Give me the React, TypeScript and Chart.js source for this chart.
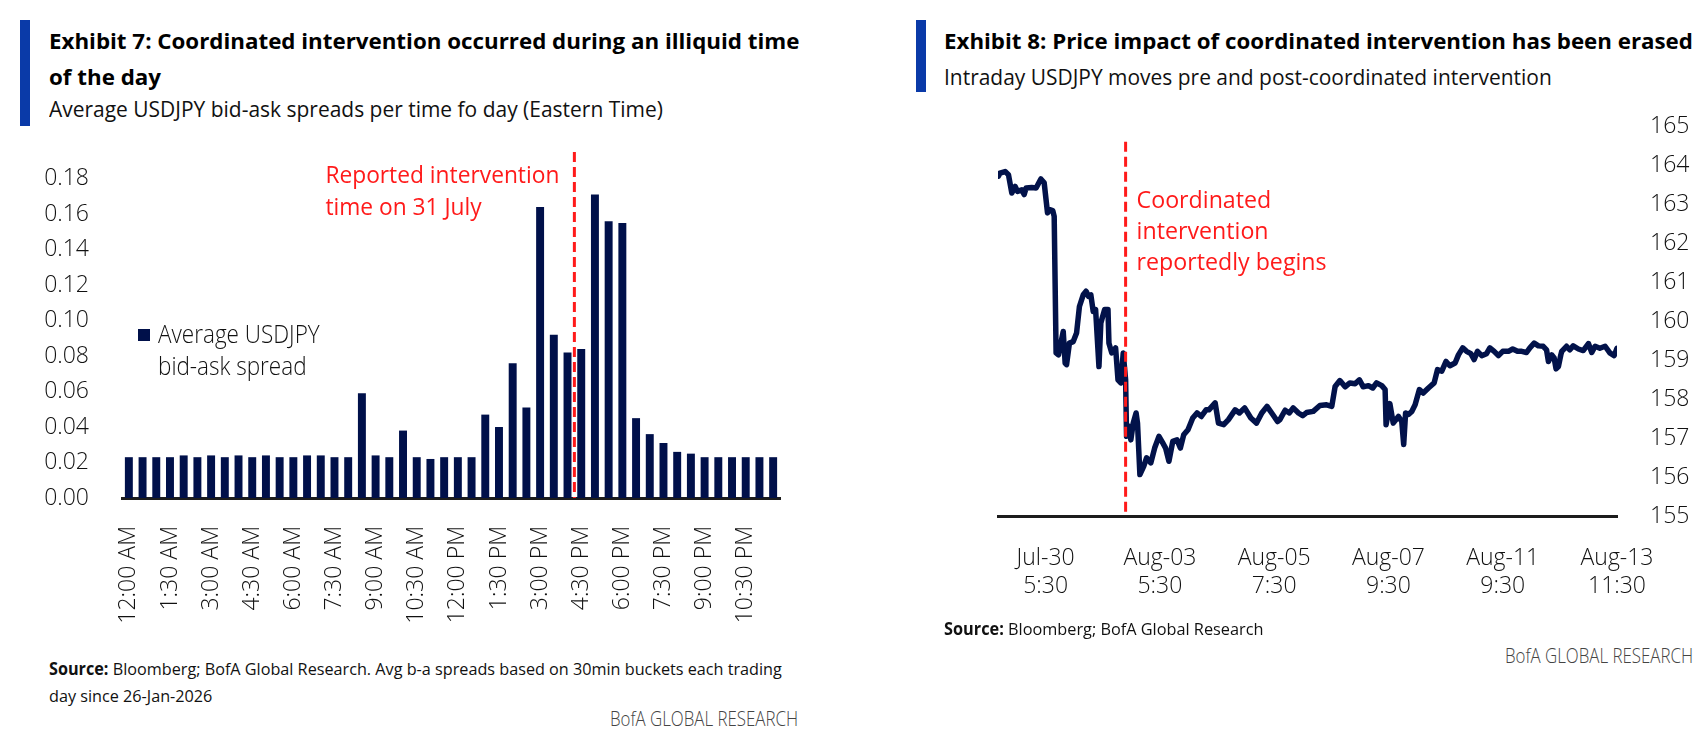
import React, { useEffect, useLayoutEffect, useRef, useState } from 'react';
import { Chart, registerables } from 'chart.js';

Chart.register(...registerables);

// ---------------- Exhibit 7 data ----------------
const TIME_BUCKETS = [
  '12:00 AM', '12:30 AM', '1:00 AM', '1:30 AM', '2:00 AM', '2:30 AM', '3:00 AM', '3:30 AM',
  '4:00 AM', '4:30 AM', '5:00 AM', '5:30 AM', '6:00 AM', '6:30 AM', '7:00 AM', '7:30 AM',
  '8:00 AM', '8:30 AM', '9:00 AM', '9:30 AM', '10:00 AM', '10:30 AM', '11:00 AM', '11:30 AM',
  '12:00 PM', '12:30 PM', '1:00 PM', '1:30 PM', '2:00 PM', '2:30 PM', '3:00 PM', '3:30 PM',
  '4:00 PM', '4:30 PM', '5:00 PM', '5:30 PM', '6:00 PM', '6:30 PM', '7:00 PM', '7:30 PM',
  '8:00 PM', '8:30 PM', '9:00 PM', '9:30 PM', '10:00 PM', '10:30 PM', '11:00 PM', '11:30 PM',
];
const SPREADS = [
  0.023, 0.023, 0.023, 0.023, 0.024, 0.023, 0.024, 0.023,
  0.024, 0.023, 0.024, 0.023, 0.023, 0.024, 0.024, 0.023,
  0.023, 0.059, 0.024, 0.023, 0.038, 0.023, 0.022, 0.023,
  0.023, 0.023, 0.047, 0.040, 0.076, 0.051, 0.164, 0.092,
  0.082, 0.084, 0.171, 0.156, 0.155, 0.045, 0.036, 0.031,
  0.026, 0.025, 0.023, 0.023, 0.023, 0.023, 0.023, 0.023,
];
const SPREAD_TICKS = [0, 0.02, 0.04, 0.06, 0.08, 0.1, 0.12, 0.14, 0.16, 0.18];
const SPREAD_MAX = 0.195;
const LABEL_EVERY = 3;
const INTERVENTION_BUCKET = '4:30 PM';
const BAR_NOTE = ['Reported intervention', 'time on 31 July'];
const BAR_SERIES = 'Average USDJPY bid-ask spread';

// ---------------- Exhibit 8 data ----------------
const PRICE_X = [
  0.1, 0.4, 1.5, 2.2, 2.9, 3.6, 4.1, 5.0, 5.5, 5.9, 7.1, 8.0, 9.0, 9.7, 10.4, 10.9, 11.5, 11.8,
  12.2, 12.7, 13.7, 14.1, 14.4, 15.0, 15.8, 16.5, 17.1, 17.9, 18.5, 19.0, 19.5, 20.0, 20.5, 21.2,
  21.6, 22.4, 23.1, 23.3, 23.9, 24.7, 25.2, 25.8, 26.3, 26.8, 27.0, 27.5, 27.9, 28.4, 29.0, 29.3,
  29.8, 30.6, 31.2, 32.1, 32.9, 33.8, 34.6, 35.2, 35.9, 36.7, 37.6, 38.3, 39.0, 39.9, 40.9, 41.8,
  42.7, 43.7, 44.3, 45.6, 46.3, 47.4, 48.4, 49.8, 50.7, 51.8, 53.1, 54.3, 55.4, 56.5, 57.7, 58.7,
  59.2, 60.3, 61.2, 62.0, 63.1, 64.0, 64.8, 66.2, 67.6, 69.0, 70.1, 70.8, 71.8, 72.9, 73.9, 75.0,
  75.9, 76.7, 77.8, 78.7, 79.5, 80.6, 81.3, 81.5, 82.3, 83.0, 84.1, 84.8, 85.2, 85.6, 86.2, 86.9,
  87.6, 88.5, 89.3, 90.4, 91.6, 92.3, 93.2, 94.1, 94.9, 96.0, 96.7, 97.6, 98.4, 99.3, 100.0, 100.7,
  101.6, 102.6, 103.3, 104.2, 105.1, 106.0, 107.2, 108.1, 109.1, 110.0, 111.0, 111.7, 112.6, 113.5,
  114.5, 115.2, 115.6, 116.3, 116.8, 117.2, 117.7, 118.2, 118.4, 119.4, 120.1, 120.8, 121.9, 122.9,
  124.0, 124.7, 125.4, 126.4, 127.5, 128.5, 129.4, 130.0,
];
const PRICE_Y = [
  163.73, 163.81, 163.85, 163.77, 163.30, 163.47, 163.34, 163.38, 163.26, 163.43, 163.44, 163.43,
  163.66, 163.56, 162.79, 162.87, 162.85, 162.70,
  159.20, 159.15, 159.75, 158.94, 158.90, 159.45, 159.49, 159.71, 160.39, 160.69, 160.78, 160.65,
  160.69, 160.26, 160.31, 158.85,
  159.97, 160.31, 160.31, 159.45, 159.20, 159.33, 158.51, 158.43, 159.20, 158.51, 157.06, 157.32,
  156.97, 157.40, 157.66, 157.40,
  156.08, 156.29, 156.51, 156.38, 156.76, 157.06, 156.89, 156.76, 156.42, 156.93, 156.97, 156.76,
  157.10, 157.23, 157.53, 157.66,
  157.57, 157.74, 157.74, 157.92, 157.40, 157.36, 157.49, 157.74, 157.66, 157.79, 157.53, 157.40,
  157.66, 157.83, 157.62, 157.44,
  157.49, 157.73, 157.66, 157.79, 157.66, 157.59, 157.67, 157.70, 157.85, 157.87, 157.83, 158.34,
  158.49, 158.33, 158.43, 158.41,
  158.51, 158.33, 158.36, 158.30, 158.43, 158.36, 158.26, 157.36, 157.90, 157.40, 157.57, 157.44,
  156.85, 157.66, 157.62, 157.70,
  157.87, 158.26, 158.17, 158.30, 158.43, 158.77, 158.73, 158.98, 158.87, 158.94, 159.15, 159.33,
  159.24, 159.18, 159.03, 159.24,
  159.13, 159.18, 159.33, 159.24, 159.13, 159.24, 159.24, 159.30, 159.24, 159.24, 159.21, 159.33,
  159.45, 159.38,
  159.37, 159.28, 158.98, 159.15, 159.07, 158.79, 158.85, 159.15, 159.24, 159.37, 159.28, 159.38,
  159.30, 159.26,
  159.44, 159.21, 159.37, 159.32, 159.37, 159.20, 159.13, 159.32,
];
const PRICE_MIN = 155;
const PRICE_MAX = 165;
const PRICE_TICKS = [155, 156, 157, 158, 159, 160, 161, 162, 163, 164, 165];
const X_MAX = 130;
const X_TICK_POS = [10, 34, 58, 82, 106, 130];
const X_TICK_LABELS = [
  ['Jul-30', '5:30'],
  ['Aug-03', '5:30'],
  ['Aug-05', '7:30'],
  ['Aug-07', '9:30'],
  ['Aug-11', '9:30'],
  ['Aug-13', '11:30'],
];
const INTERVENTION_X = 26.8;
const LINE_NOTE = ['Coordinated', 'intervention', 'reportedly begins'];

// ---------------- styles ----------------
const BAR_COLOR = '#00104a';
const LINE_COLOR = '#02124a';
const RED = '#ff1a1a';
const BRAND_BLUE = '#0a3aa8';
const AXIS_COLOR = '#1c1c1c';
const TEXT = '#111111';

type FontPick = { family: string; stretch: string; k: number; asc: number; desc: number };
let FONT: FontPick | null = null;
function pickFont(): FontPick {
  if (FONT) return FONT;
  const ctx = document.createElement('canvas').getContext('2d') as CanvasRenderingContext2D;
  const s = 'Average USDJPY bid-ask spread 0.12 Aug-03';
  ctx.font = '400 40px "Noto Sans"';
  const nw = ctx.measureText(s).width;
  ctx.font = '400 semi-condensed 40px "Noto Sans"';
  const cw = ctx.measureText(s).width;
  if (cw < nw * 0.95) {
    FONT = { family: '"Noto Sans", sans-serif', stretch: 'semi-condensed', k: 1, asc: 1.069, desc: 0.293 };
    return FONT;
  }
  ctx.font = '40px monospace';
  const mw = ctx.measureText(s).width;
  ctx.font = '40px "Liberation Sans Narrow", monospace';
  const lw = ctx.measureText(s).width;
  if (Math.abs(lw - mw) > 2) {
    FONT = { family: '"Liberation Sans Narrow", sans-serif', stretch: '', k: 1, asc: 0.905, desc: 0.212 };
    return FONT;
  }
  FONT = { family: '"Open Sans", sans-serif', stretch: '', k: 0.92, asc: 1.069, desc: 0.293 };
  return FONT;
}

function cf(size: number, weight: number) {
  const F = pickFont();
  return {
    family: F.family,
    size: Math.round(size * F.k * 10) / 10,
    weight: (F.stretch ? `${weight} ${F.stretch}` : `${weight}`) as any,
    lineHeight: 1.2,
  };
}
function canvasFont(size: number, weight: number) {
  const F = pickFont();
  return `${weight} ${F.stretch ? F.stretch + ' ' : ''}${size}px ${F.family}`;
}

// draws a block of lines whose widest line is squeezed/stretched to `width`
function drawFittedLines(
  ctx: CanvasRenderingContext2D,
  lines: string[],
  left: number,
  firstBase: number,
  lh: number,
  width: number,
  fontSize: number,
) {
  ctx.font = canvasFont(fontSize, 400);
  const natural = Math.max(...lines.map((t) => ctx.measureText(t).width));
  const sx = natural > 0 ? width / natural : 1;
  lines.forEach((t, i) => {
    ctx.save();
    ctx.translate(left, firstBase + i * lh);
    ctx.scale(sx, 1);
    ctx.fillText(t, 0, 0);
    ctx.restore();
  });
}

// ---------------- text helper ----------------
type TxtProps = {
  x?: number;
  right?: number;
  base: number;
  fs: number;
  lh: number;
  width: number;
  weight?: number;
  color?: string;
  lines: React.ReactNode[];
};
function Txt({ x, right, base, fs, lh, width, weight = 400, color = TEXT, lines }: TxtProps) {
  const ref = useRef<HTMLDivElement>(null);
  const [sx, setSx] = useState(1);
  const F = pickFont();
  useLayoutEffect(() => {
    const measure = () => {
      const el = ref.current;
      if (!el) return;
      const w = el.offsetWidth;
      if (w > 0) setSx(width / w);
    };
    measure();
    if ((document as any).fonts && (document as any).fonts.ready) {
      (document as any).fonts.ready.then(measure);
    }
  }, [width]);
  const top = base - (lh / 2 + ((F.asc - F.desc) / 2) * fs);
  const left = right !== undefined ? right - width : (x as number);
  return (
    <div
      ref={ref}
      style={{
        position: 'absolute',
        left,
        top,
        width: 'max-content',
        whiteSpace: 'pre',
        fontFamily: F.family,
        fontStretch: F.stretch || 'normal',
        fontSize: fs,
        lineHeight: `${lh}px`,
        fontWeight: weight,
        color,
        transform: `scaleX(${sx})`,
        transformOrigin: '0 0',
      }}
    >
      {lines.map((l, i) => (
        <div key={i}>{l}</div>
      ))}
    </div>
  );
}

// ---------------- Exhibit 7 chart ----------------
function SpreadChart() {
  const ref = useRef<HTMLCanvasElement>(null);
  useEffect(() => {
    const note = {
      id: 'intervention7',
      afterDatasetsDraw(chart: any) {
        const { ctx, chartArea } = chart;
        const xs = chart.scales.x;
        const idx = TIME_BUCKETS.indexOf(INTERVENTION_BUCKET);
        const x = (xs.getPixelForValue(idx - 1) + xs.getPixelForValue(idx)) / 2;
        ctx.save();
        ctx.strokeStyle = RED;
        ctx.lineWidth = 3;
        ctx.setLineDash([10, 5]);
        ctx.beginPath();
        ctx.moveTo(x, chartArea.top);
        ctx.lineTo(x, chartArea.bottom);
        ctx.stroke();
        ctx.setLineDash([]);
        ctx.fillStyle = RED;
        ctx.textAlign = 'left';
        ctx.textBaseline = 'alphabetic';
        const w = 234;
        drawFittedLines(ctx, BAR_NOTE, x - 15 - w, chartArea.top + 31.3, 31.7, w, 24);
        ctx.restore();
      },
    };
    const chart = new Chart(ref.current as HTMLCanvasElement, {
      type: 'bar',
      data: {
        labels: TIME_BUCKETS,
        datasets: [
          {
            label: BAR_SERIES,
            data: SPREADS,
            backgroundColor: BAR_COLOR,
            barPercentage: 0.58,
            categoryPercentage: 1,
          },
        ],
      },
      options: {
        animation: false,
        responsive: false,
        layout: { padding: { top: 22, right: 20, left: 0, bottom: 0 } },
        plugins: { legend: { display: false }, tooltip: { enabled: false } },
        scales: {
          x: {
            grid: { display: false },
            border: { display: true, color: AXIS_COLOR, width: 3 },
            ticks: {
              autoSkip: false,
              maxRotation: 90,
              minRotation: 90,
              padding: 20,
              color: TEXT,
              font: cf(25, 300),
              callback: (_v: any, i: number) => (i % LABEL_EVERY === 0 ? TIME_BUCKETS[i] : ''),
            },
            afterFit: (s: any) => {
              s.height = 132;
              s.paddingLeft = 0;
              s.paddingRight = 0;
            },
          },
          y: {
            min: 0,
            max: SPREAD_MAX,
            grid: { display: false },
            border: { display: false },
            ticks: {
              padding: 25,
              color: TEXT,
              font: cf(25, 300),
              callback: (v: any) => Number(v).toFixed(2),
            },
            afterBuildTicks: (s: any) => {
              s.ticks = SPREAD_TICKS.map((value) => ({ value }));
            },
            afterFit: (s: any) => {
              s.width = 102;
              s.paddingTop = 0;
              s.paddingBottom = 0;
            },
          },
        },
      } as any,
      plugins: [note],
    });
    return () => chart.destroy();
  }, []);
  return (
    <canvas
      ref={ref}
      width={780}
      height={500}
      style={{ position: 'absolute', left: 20, top: 130, width: 780, height: 500 }}
    />
  );
}

// ---------------- Exhibit 8 chart ----------------
function PriceChart() {
  const ref = useRef<HTMLCanvasElement>(null);
  useEffect(() => {
    const note = {
      id: 'intervention8',
      afterDatasetsDraw(chart: any) {
        const { ctx, chartArea } = chart;
        const x = chart.scales.x.getPixelForValue(INTERVENTION_X);
        ctx.save();
        ctx.strokeStyle = RED;
        ctx.lineWidth = 3;
        ctx.setLineDash([10, 5]);
        ctx.beginPath();
        ctx.moveTo(x, chartArea.top + 15);
        ctx.lineTo(x, chartArea.bottom);
        ctx.stroke();
        ctx.setLineDash([]);
        ctx.fillStyle = RED;
        ctx.textAlign = 'left';
        ctx.textBaseline = 'alphabetic';
        drawFittedLines(ctx, LINE_NOTE, x + 11, chartArea.top + 81.6, 31, 190, 24.5);
        ctx.restore();
      },
    };
    const chart = new Chart(ref.current as HTMLCanvasElement, {
      type: 'line',
      data: {
        datasets: [
          {
            label: 'USDJPY',
            data: PRICE_X.map((x, i) => ({ x, y: PRICE_Y[i] })),
            borderColor: LINE_COLOR,
            borderWidth: 5.5,
            pointRadius: 0,
            tension: 0,
            borderJoinStyle: 'round',
            borderCapStyle: 'round',
            fill: false,
          },
        ],
      },
      options: {
        animation: false,
        responsive: false,
        layout: { padding: { top: 26.7, right: 0, left: 38, bottom: 0 } },
        plugins: { legend: { display: false }, tooltip: { enabled: false } },
        scales: {
          x: {
            type: 'linear',
            min: 0,
            max: X_MAX,
            grid: { display: false },
            border: { display: true, color: AXIS_COLOR, width: 3 },
            ticks: {
              autoSkip: false,
              maxRotation: 0,
              padding: 20,
              color: TEXT,
              font: cf(25, 300),
              callback: (v: any) => {
                const i = X_TICK_POS.indexOf(Number(v));
                return i >= 0 ? X_TICK_LABELS[i] : '';
              },
            },
            afterBuildTicks: (s: any) => {
              s.ticks = X_TICK_POS.map((value) => ({ value }));
            },
            afterFit: (s: any) => {
              s.height = 113.3;
              s.paddingLeft = 0;
              s.paddingRight = 0;
            },
          },
          y: {
            position: 'right',
            min: PRICE_MIN,
            max: PRICE_MAX,
            grid: { display: false },
            border: { display: false },
            ticks: {
              padding: 25,
              color: TEXT,
              font: cf(25, 300),
              callback: (v: any) => String(v),
            },
            afterBuildTicks: (s: any) => {
              s.ticks = PRICE_TICKS.map((value) => ({ value }));
            },
            afterFit: (s: any) => {
              s.width = 80;
              s.paddingTop = 0;
              s.paddingBottom = 0;
            },
          },
        },
      } as any,
      plugins: [note],
    });
    return () => chart.destroy();
  }, []);
  return (
    <canvas
      ref={ref}
      width={737}
      height={530}
      style={{ position: 'absolute', left: 960, top: 100, width: 737, height: 530 }}
    />
  );
}

export default function App() {
  useEffect(() => {
    document.body.style.overflow = 'hidden';
  }, []);
  return (
    <div
      style={{
        position: 'absolute',
        left: 0,
        top: 0,
        width: 1697,
        height: 731,
        overflow: 'hidden',
        background: '#ffffff',
      }}
    >
      {/* Exhibit 7 */}
      <div style={{ position: 'absolute', left: 20, top: 20, width: 10, height: 106, background: BRAND_BLUE }} />
      <Txt
        x={49}
        base={49.3}
        fs={21.5}
        lh={36.7}
        width={750}
        weight={700}
        color="#000"
        lines={['Exhibit 7: Coordinated intervention occurred during an illiquid time', 'of the day']}
      />
      <Txt
        x={49}
        base={117.3}
        fs={22.5}
        lh={28}
        width={614}
        weight={400}
        lines={['Average USDJPY bid-ask spreads per time fo day (Eastern Time)']}
      />
      <SpreadChart />
      <div style={{ position: 'absolute', left: 138, top: 329, width: 12, height: 12, background: BAR_COLOR }} />
      <Txt x={158} base={343} fs={25} lh={32} width={162} weight={300} lines={['Average USDJPY', 'bid-ask spread']} />
      <Txt
        x={49}
        base={676}
        fs={17}
        lh={26.7}
        width={733}
        weight={400}
        lines={[
          <>
            <b>Source:</b> Bloomberg; BofA Global Research. Avg b-a spreads based on 30min buckets each trading
          </>,
          'day since 26-Jan-2026',
        ]}
      />
      <Txt right={798} base={727} fs={20} lh={24} width={188} weight={300} color="#444" lines={['BofA GLOBAL RESEARCH']} />

      {/* Exhibit 8 */}
      <div style={{ position: 'absolute', left: 916, top: 20, width: 10, height: 72, background: BRAND_BLUE }} />
      <Txt
        x={944}
        base={49.3}
        fs={21.5}
        lh={36.7}
        width={749}
        weight={700}
        color="#000"
        lines={['Exhibit 8: Price impact of coordinated intervention has been erased']}
      />
      <Txt
        x={944}
        base={85.5}
        fs={22.5}
        lh={28}
        width={608}
        weight={400}
        lines={['Intraday USDJPY moves pre and post-coordinated intervention']}
      />
      <PriceChart />
      <Txt
        x={944}
        base={636}
        fs={17}
        lh={26.7}
        width={319}
        weight={400}
        lines={[
          <>
            <b>Source:</b> Bloomberg; BofA Global Research
          </>,
        ]}
      />
      <Txt right={1693} base={664} fs={20} lh={24} width={188} weight={300} color="#444" lines={['BofA GLOBAL RESEARCH']} />
    </div>
  );
}
